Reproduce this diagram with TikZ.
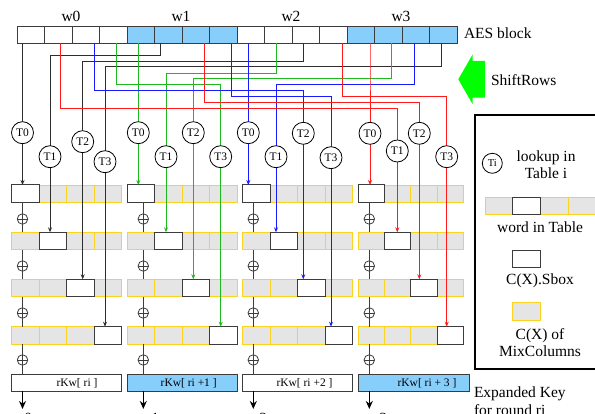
\documentclass[tikz,border=0pt]{standalone}
\usepackage{fontspec}
\setmainfont{Liberation Serif}
\usetikzlibrary{arrows.meta}
\pgfdeclarelayer{back}
\pgfdeclarelayer{mid}
\pgfsetlayers{back,mid,main}
\definecolor{skyb}{RGB}{135,206,250}
\definecolor{cellgray}{RGB}{229,229,229}
\definecolor{goldedge}{RGB}{250,212,30}
\definecolor{edge}{RGB}{60,60,60}
\definecolor{lred}{RGB}{255,25,25}
\definecolor{lgreen}{RGB}{30,185,30}
\definecolor{lblue}{RGB}{25,25,255}
\definecolor{lblack}{RGB}{45,45,45}
\definecolor{arrowgreen}{RGB}{0,255,0}
\tikzset{
  every node/.style={inner sep=0pt, outer sep=0pt},
  txt/.style={font=\fontsize{15.5}{16.7}\selectfont},
  blkw/.style={draw=edge, fill=white, line width=0.8pt, minimum width=27.5pt, minimum height=17pt},
  blkb/.style={blkw, fill=skyb},
  wcell/.style={draw=edge, fill=white, line width=1pt, minimum height=17.6pt},
  gcell/.style={draw=goldedge, fill=cellgray, line width=0.8pt, minimum height=17.6pt},
  tnode/.style={circle, draw=black, fill=white, line width=0.8pt, minimum size=22pt, font=\fontsize{11.5}{12}\selectfont},
  xorn/.style={circle, draw=edge, fill=white, line width=0.8pt, minimum size=10.5pt,
    path picture={\draw[edge,line width=0.8pt] (path picture bounding box.north) -- (path picture bounding box.south)
      (path picture bounding box.west) -- (path picture bounding box.east);}},
  wire/.style={line width=1pt},
  tipd/.style={-{Stealth[length=5pt,width=4pt]}},
  keybox/.style={draw=edge, line width=1pt, minimum height=17.3pt},
  keytxt/.style={font=\fontsize{11.5}{12}\selectfont},
  outarrow/.style={line width=1.5pt, -{Stealth[length=8pt,width=7pt]}},
}
\newcommand\wireto[5]{%
  \coordinate (s#4) at (#2,43);
  \draw[wire,#1] (s#4) -- (#2,#3) -| (#4);
  \draw[wire,#1,tipd] (#4) -- (#4 |- #5.north);
}
\begin{document}
\begin{tikzpicture}[x=1pt,y=-1pt]
\useasboundingbox (0,0) rectangle (595,414);

\begin{pgfonlayer}{back}
% AES block
\foreach \i in {0,...,15} {
  \pgfmathsetmacro\cx{17+27.5*(\i+0.5)}
  \pgfmathtruncatemacro\w{int(\i/4)}
  \ifodd\w
    \node[blkb] (b\i) at (\cx,34.5) {};
  \else
    \node[blkw] (b\i) at (\cx,34.5) {};
  \fi
}
% table rows
\foreach \g/\gx/\cw in {0/11.7/27.5,1/127.3/27.5,2/242.5/27.5,3/358.3/26.25} {
  \foreach \r/\ry in {0/193.8,1/241.1,2/288.1,3/335.5} {
    \foreach \k in {0,...,3} {
      \pgfmathsetmacro\cx{\gx+\cw*(\k+0.5)}
      \node[gcell, minimum width=\cw*1pt] (c\g\r\k) at (\cx,\ry) {};
    }
    \pgfmathsetmacro\cx{\gx+\cw*(\r+0.5)}
    \node[wcell, minimum width=\cw*1pt] (w\g\r) at (\cx,\ry) {};
  }
}
% key boxes
\node[keybox, fill=white, minimum width=110pt] (key0) at (66.7,382.7) {};
\node[keybox, fill=skyb, minimum width=110pt] (key1) at (182.3,382.7) {};
\node[keybox, fill=white, minimum width=110pt] (key2) at (297.5,382.7) {};
\node[keybox, fill=skyb, minimum width=110.7pt] (key3) at (413.65,382.7) {};
\end{pgfonlayer}

% word labels
\node[txt] (lw0) at (71,16.5) {w0};
\node[txt] (lw1) at (181,16.5) {w1};
\node[txt] (lw2) at (291,16.5) {w2};
\node[txt] (lw3) at (401,16.5) {w3};
\node[txt, anchor=west] (laes) at (464,33) {AES block};

% ShiftRows arrow
\fill[arrowgreen] (485,61) -- (472.7,61) -- (472.7,54.3) -- (458.3,79.3)
  -- (472.7,104.3) -- (472.7,97.7) -- (485,97.7) -- cycle;
\node[txt, anchor=west] (lshift) at (491,80) {ShiftRows};

% T nodes
\node[tnode] (t00) at (22.5,132.7) {T0};
\node[tnode] (t01) at (50,156.7) {T1};
\node[tnode] (t02) at (82.7,141.7) {T2};
\node[tnode] (t03) at (105,161.7) {T3};
\node[tnode] (t10) at (138.3,132.7) {T0};
\node[tnode] (t11) at (166,156.7) {T1};
\node[tnode] (t12) at (193.3,132.7) {T2};
\node[tnode] (t13) at (220.7,156.7) {T3};
\node[tnode] (t20) at (248.3,132.7) {T0};
\node[tnode] (t21) at (276,156.7) {T1};
\node[tnode] (t22) at (303.3,133.3) {T2};
\node[tnode] (t23) at (331,157.7) {T3};
\node[tnode] (t30) at (370,133.3) {T0};
\node[tnode] (t31) at (397.3,151) {T1};
\node[tnode] (t32) at (419.3,133.3) {T2};
\node[tnode] (t33) at (446.7,156.7) {T3};

% xor nodes
\foreach \g/\ox in {0/22.5,1/143.3,2/253.3,3/369.3} {
  \foreach \r/\oy in {0/219,1/266,2/313,3/360} {
    \node[xorn] (x\g\r) at (\ox,\oy) {};
  }
  \coordinate (o\g) at (\ox,409);
}

% key texts
\node[keytxt] (kt0) at (77,383) {rKw[ ri ]};
\node[keytxt] (kt1) at (188.7,383) {rKw[ ri +1 ]};
\node[keytxt] (kt2) at (304.5,383) {rKw[ ri +2 ]};
\node[keytxt] (kt3) at (427,383) {rKw[ ri + 3 ]};

% output labels (cut by the lower edge, as in the reference)
\node[txt, anchor=base west] (lt0) at (20,423.5) {t0};
\node[txt, anchor=base west] (lt1) at (147,423.5) {t1};
\node[txt, anchor=base west] (lt2) at (255,423.5) {t2};
\node[txt, anchor=base west] (lt3) at (375,423.5) {t3};

\begin{pgfonlayer}{mid}
\wireto{lblack}{22.5}{60}{t00}{w00}
\wireto{lblack}{160}{55.5}{t01}{w01}
\wireto{lblack}{303.3}{61.7}{t02}{w02}
\wireto{lblack}{441}{67}{t03}{w03}
\wireto{lgreen}{138.3}{60}{t10}{w10}
\wireto{lgreen}{276}{73.3}{t11}{w11}
\wireto{lgreen}{391.7}{79}{t12}{w12}
\wireto{lgreen}{116}{84.5}{t13}{w13}
\wireto{lblue}{248.3}{60}{t20}{w20}
\wireto{lblue}{414}{84.5}{t21}{w21}
\wireto{lblue}{94.3}{91}{t22}{w22}
\wireto{lblue}{231.7}{96.7}{t23}{w23}
\wireto{lred}{370}{60}{t30}{w30}
\wireto{lred}{60.7}{108.3}{t31}{w31}
\wireto{lred}{204.3}{102.3}{t32}{w32}
\wireto{lred}{342.3}{96.7}{t33}{w33}
\foreach \g in {0,...,3} {
  \foreach \r in {0,...,3} {
    \pgfmathtruncatemacro\rn{\r+1}
    \draw[wire,edge] (c\g\r0.south -| x\g\r) -- (x\g\r);
    \ifnum\r<3
      \draw[wire,edge] (x\g\r) -- (c\g\rn0.north -| x\g\r);
    \else
      \draw[wire,edge] (x\g\r) -- (key\g.north -| x\g\r);
    \fi
  }
  \draw[outarrow] (key\g.south -| o\g) -- (o\g);
}
\end{pgfonlayer}

% legend
\node[draw=black, line width=2pt, anchor=north west, minimum width=150pt, minimum height=254pt] (legend) at (475,115) {};
\node[tnode, minimum size=20pt, font=\fontsize{10.5}{11}\selectfont] (lgt) at (492.3,163.3) {Ti};
\node[txt, align=center] (lgtt) at (546,165) {lookup in\\Table i};
\node[gcell, minimum width=27.7pt, minimum height=17pt] (lg1) at (498.85,205.8) {};
\node[gcell, minimum width=27.7pt, minimum height=17pt] (lg3) at (554.5,205.8) {};
\node[gcell, minimum width=27.7pt, minimum height=17pt] (lg4) at (582.15,205.8) {};
\node[wcell, minimum width=28pt, minimum height=17pt] (lg2) at (526.7,205.8) {};
\node[txt] (lgwt) at (540,227.3) {word in Table};
\node[wcell, minimum width=28pt, minimum height=17.3pt] (lgs) at (526.7,258.7) {};
\node[txt] (lgst) at (540,280.7) {C(X).Sbox};
\node[gcell, minimum width=28pt, minimum height=18pt] (lgm) at (526.7,311.7) {};
\node[txt, align=center] (lgmt) at (540,342.3) {C(X) of\\MixColumns};
\node[txt, anchor=base west] (lek) at (474,397.3) {Expanded Key};
\node[txt, anchor=base west] (lfr) at (474,415.5) {for round ri};
\end{tikzpicture}
\end{document}
